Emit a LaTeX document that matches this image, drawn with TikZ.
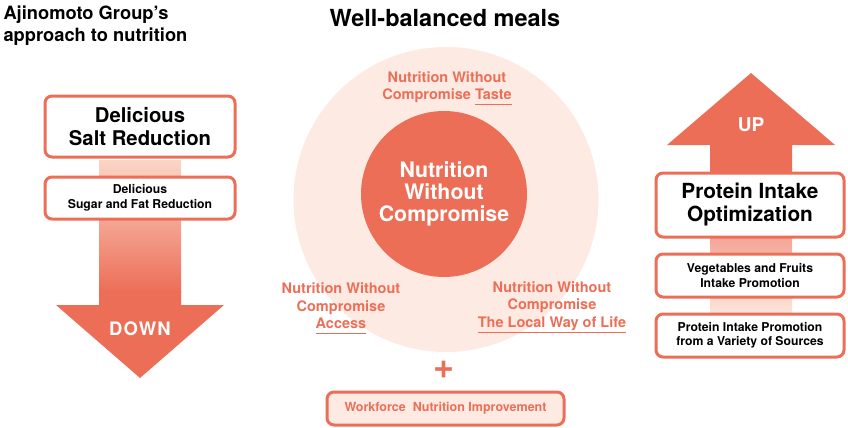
\documentclass[tikz,border=0pt]{standalone}
\usepackage{fontspec}
\setmainfont{TeX Gyre Heros}
\usepackage{xcolor}
\definecolor{coral}{HTML}{EC6E57}
\definecolor{blush}{HTML}{FDEBE3}
\definecolor{peach}{HTML}{FAD5C6}
\definecolor{mist}{HTML}{FEF1EB}
\newcommand\setfs[2]{\fontsize{#1}{#2}\selectfont\bfseries}
\newcommand\ulword[1]{\setbox0\hbox{#1}\rlap{\smash{\rule[-5.5pt]{\wd0}{1pt}}}\box0}

\begin{document}
\begin{tikzpicture}[x=1pt,y=-1pt,
        box/.style={draw=coral,line width=3pt,rounded corners=7pt,fill=white,align=center,inner sep=0pt},
        claim/.style={text=coral,align=center,font=\setfs{14.5}{17.5}}]
        \useasboundingbox (0,0) rectangle (848,428);

        % headings
        \node [anchor=west,align=left,font=\setfs{18.3}{22}] (title) at (0,26) {Ajinomoto Group’s\\approach to nutrition};
        \node [font=\setfs{23.5}{25}] (meals) at (445,18.5) {Well-balanced meals};

        % down arrow
        \shade [top color=peach,bottom color=coral] (99,160) rectangle (181,292);
        \fill [coral] (99,291) -- (181,291) -- (181,305) -- (224,305) -- (140,378) -- (56,305) -- (99,305) -- cycle;
        \node [text=white,font=\setfs{18.5}{20}\addfontfeature{LetterSpace=6}] (down) at (140,329) {DOWN};
        \node [box,minimum width=190pt,minimum height=61pt,font=\setfs{20.3}{23}] (salt) at (140,126.5) {Delicious\\Salt Reduction};
        \node [box,minimum width=190pt,minimum height=42pt,font=\setfs{12.2}{14.5}] (sugar) at (140,198) {Delicious\\Sugar and Fat Reduction};

        % meals circle
        \node [circle,fill=blush,minimum size=305pt] (plate) at (446,199.5) {};
        \node [circle,fill=coral,minimum size=166pt,inner sep=0pt,text=white,align=center,font=\setfs{21.3}{22}] (core) at (444,194) {Nutrition\\Without\\Compromise};
        \node [claim] (taste) at (447,87) {Nutrition Without\\Compromise \ulword{Taste}};
        \node [claim] (access) at (341,306) {Nutrition Without\\Compromise\\\ulword{Access}};
        \node [claim] (local) at (552,306) {Nutrition Without\\Compromise\\\ulword{The Local Way of Life}};
        \node [text=coral,font=\setfs{36}{38}] (plus) at (444,370) {+};
        \node [box,fill=blush,minimum width=237pt,minimum height=33pt,text=coral,font=\setfs{12.5}{15}] (staff) at (445.5,408.5) {Workforce\ \ Nutrition Improvement};

        % up arrow
        \shade [top color=coral,bottom color=mist] (710,168) rectangle (792,330);
        \fill [coral] (710,170) -- (710,145) -- (667,145) -- (751,73) -- (835,145) -- (792,145) -- (792,170) -- cycle;
        \node [text=white,font=\setfs{19}{20}] (up) at (751,125) {UP};
        \node [box,minimum width=188pt,minimum height=64pt,font=\setfs{20.8}{23}] (optim) at (750,205) {Protein Intake\\Optimization};
        \node [box,minimum width=188pt,minimum height=43pt,font=\setfs{12.2}{14.5}] (veg) at (750,275.5) {Vegetables and Fruits\\Intake Promotion};
        \node [box,minimum width=188pt,minimum height=43pt,font=\setfs{12.2}{14.5}] (sources) at (750,335.5) {Protein Intake Promotion\\from a Variety of Sources};
\end{tikzpicture}
\end{document}
